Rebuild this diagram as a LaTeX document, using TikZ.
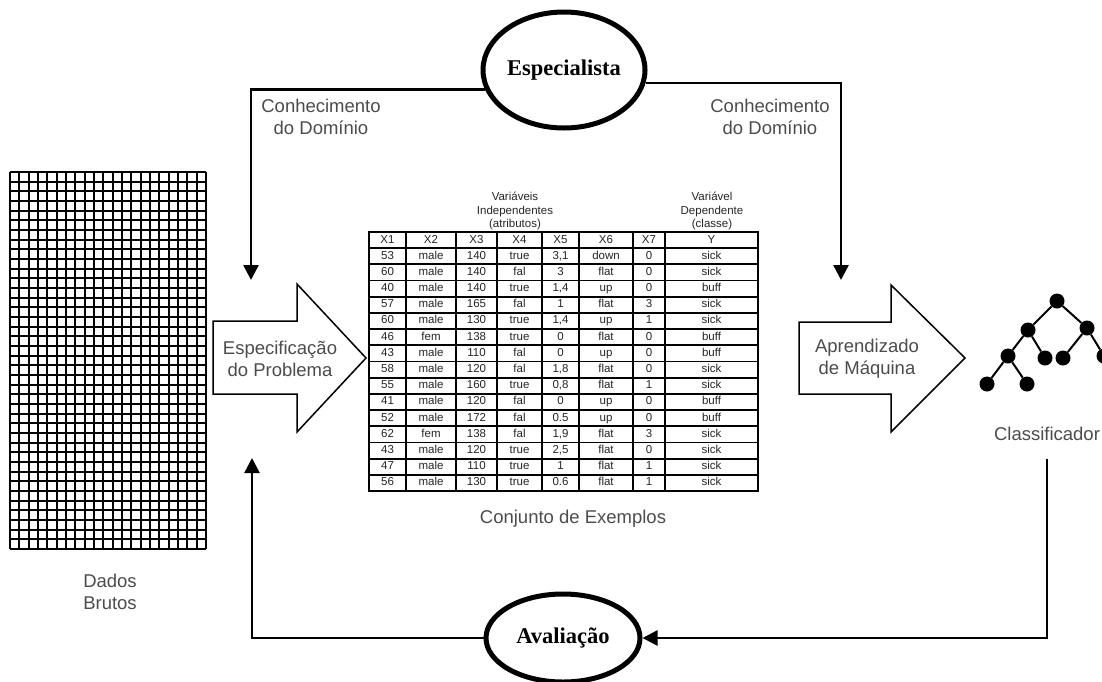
\documentclass[tikz,border=0pt]{standalone}
\usepackage{fontspec}
\setmainfont{Liberation Sans}
\newfontfamily\actorfont{Liberation Serif}
\usepackage{tikz}
\usetikzlibrary{arrows.meta,shapes.geometric,positioning}

\tikzset{
  conn/.style={line width=2.6pt, -{Triangle[width=15pt,length=15pt]}},
  lbl/.style={text=black!70, font=\fontsize{18.5}{22}\selectfont, align=center, inner sep=0pt},
  actor/.style={ellipse, draw, line width=5pt, fill=white, inner sep=0pt,
    font=\actorfont\bfseries\fontsize{22.5}{26}\selectfont},
  bigarrow/.style={draw, line width=1.5pt, fill=white, line join=miter},
  head/.style={font=\fontsize{11.5}{13.5}\selectfont, text=black!85, inner sep=0pt, align=center},
  cell/.style={font=\fontsize{11.5}{13.5}\selectfont, text=black!85, inner sep=0pt,
    text height=8.3pt, text depth=2.4pt},
  leaf/.style={circle, fill=black, minimum size=15pt, inner sep=0pt},
  rule/.style={line width=1.8pt},
}

\begin{document}
\begin{tikzpicture}[x=1pt,y=-1pt]
\fill[white] (0,0) rectangle (1102,681);
\useasboundingbox (0,0) rectangle (1102,681);

% raw data grid
\foreach \i in {0,...,21}
  \draw[line width=2.2pt] ({10+\i*196/21},172) -- ++(0,377);
\foreach \j in {0,...,39}
  \draw[line width=2.2pt] (10,{172+\j*377/39}) -- ++(196,0);
\node[lbl] (raw) at (110,592) {Dados\\Brutos};

% expert and evaluation
\node[actor, minimum width=162pt, minimum height=116pt] (esp) at (564,70) {Especialista};
\node[actor, minimum width=154pt, minimum height=88pt] (aval) at (563,638) {Avaliação};

\node[lbl] (dom1) at (321,117) {Conhecimento\\do Domínio};
\node[lbl] (dom2) at (770,117) {Conhecimento\\do Domínio};

% big arrows
\draw[bigarrow] (213,321) -- (297,321) -- (297,284) -- (366,358)
  -- (297,432) -- (297,394) -- (213,394) -- cycle;
\node[lbl] (spec) at (280,359) {Especificação\\do Problema};
\draw[bigarrow] (799,322) -- (891,322) -- (891,285) -- (965,358)
  -- (891,432) -- (891,394) -- (799,394) -- cycle;
\node[lbl] (ml) at (867,359) {Aprendizado\\de Máquina};

% table of examples
\node[head] (indep) at (515,211) {Variáveis\\Independentes\\(atributos)};
\node[head] (dep) at (712,211) {Variável\\Dependente\\(classe)};
\draw[rule] (369,232) rectangle (758,491);
\foreach \x in {406,456,497,542,579,633,665}
  \draw[rule] (\x,232) -- (\x,491);
\foreach \r in {1,...,15}
  \draw[rule] (369,{232+\r*16.1875}) -- (758,{232+\r*16.1875});
\foreach \a/\b/\c/\d/\e/\f/\g/\h [count=\r from 0] in {
    X1/X2/X3/X4/X5/X6/X7/Y,
    53/male/140/true/{3,1}/down/0/sick,
    60/male/140/fal/3/flat/0/sick,
    40/male/140/true/{1,4}/up/0/buff,
    57/male/165/fal/1/flat/3/sick,
    60/male/130/true/{1,4}/up/1/sick,
    46/fem/138/true/0/flat/0/buff,
    43/male/110/fal/0/up/0/buff,
    58/male/120/fal/{1,8}/flat/0/sick,
    55/male/160/true/{0,8}/flat/1/sick,
    41/male/120/fal/0/up/0/buff,
    52/male/172/fal/0.5/up/0/buff,
    62/fem/138/fal/{1,9}/flat/3/sick,
    43/male/120/true/{2,5}/flat/0/sick,
    47/male/110/true/1/flat/1/sick,
    56/male/130/true/0.6/flat/1/sick}
{
  \node[cell] (c\r-1) at (387.5,{232+(\r+0.5)*16.1875}) {\a};
  \node[cell] (c\r-2) at (431,{232+(\r+0.5)*16.1875}) {\b};
  \node[cell] (c\r-3) at (476.5,{232+(\r+0.5)*16.1875}) {\c};
  \node[cell] (c\r-4) at (519.5,{232+(\r+0.5)*16.1875}) {\d};
  \node[cell] (c\r-5) at (560.5,{232+(\r+0.5)*16.1875}) {\e};
  \node[cell] (c\r-6) at (606,{232+(\r+0.5)*16.1875}) {\f};
  \node[cell] (c\r-7) at (649,{232+(\r+0.5)*16.1875}) {\g};
  \node[cell] (c\r-8) at (711.5,{232+(\r+0.5)*16.1875}) {\h};
}
\node[lbl] (set) at (573,519) {Conjunto de Exemplos};

% classifier tree
\node[leaf] (t1) at (1057,301) {};
\node[leaf] (t2) at (1028,330) {};
\node[leaf] (t3) at (1087,328) {};
\node[leaf] (t4) at (1008,356) {};
\node[leaf] (t5) at (1045,358) {};
\node[leaf] (t6) at (1063,358) {};
\node[leaf] (t7) at (1104,356) {};
\node[leaf] (t8) at (987,384) {};
\node[leaf] (t9) at (1027,384) {};
\foreach \p/\q in {t1/t2,t1/t3,t2/t4,t2/t5,t3/t6,t3/t7,t4/t8,t4/t9}
  \draw[line width=2pt] (\p) -- (\q);
\node[lbl] (clf) at (1047,434) {Classificador};

% feedback connectors
\coordinate (specin) at (251,280);
\coordinate (mlin) at (841,280);
\coordinate (specup) at (252,458);
\coordinate (clfout) at (1047,459);
\draw[conn] (esp.194) -| (specin);
\draw[conn] (esp.-9) -| (mlin);
\draw[conn] (clfout) |- (aval.east);
\draw[conn] (aval.west) -| (specup);
\end{tikzpicture}
\end{document}
